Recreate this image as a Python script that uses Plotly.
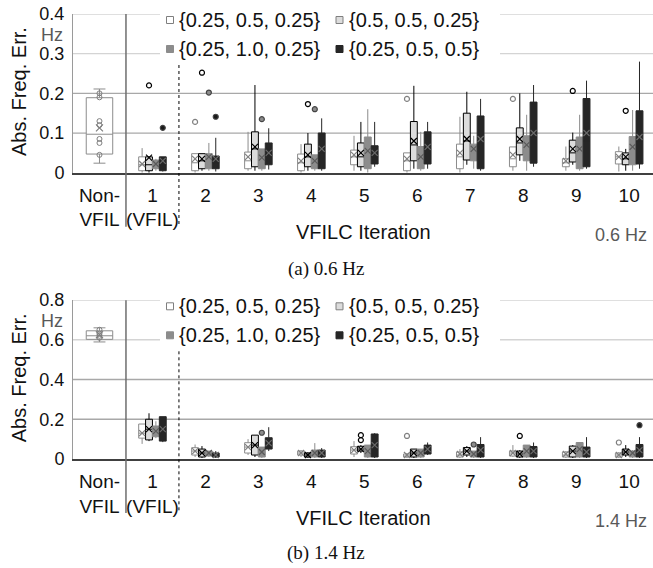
import plotly.graph_objects as go

# ---------------- data ----------------
ITERS = [1, 2, 3, 4, 5, 6, 7, 8, 9, 10]
SERIES = ["{0.25, 0.5, 0.25}", "{0.5, 0.5, 0.25}", "{0.25, 1.0, 0.25}", "{0.25, 0.5, 0.5}"]
XTICK_VALS = [0, 1, 2, 3, 4, 5, 6, 7, 8, 9, 10]
XTICK_TEXT = ["Non-<br>VFIL", "1<br>(VFIL)", "2", "3", "4", "5", "6", "7", "8", "9", "10"]
A_YTICKS = [0, 0.1, 0.2, 0.3, 0.4]
B_YTICKS = [0, 0.2, 0.4, 0.6, 0.8]

# (a) 0.6 Hz  -- Non-VFIL box: lower, q1, median, q3, upper, mean
A_NON = [0.024, 0.047, 0.097, 0.189, 0.211, 0.113]
A_NON_PTS = [0.20, 0.19, 0.13, 0.12, 0.085, 0.075, 0.045]
A_LO = [[0.0, 0.0, 0.005, 0.0, 0.005, 0.0, 0.0, 0.005, 0.005, 0.003],
        [0.0, 0.005, 0.005, 0.005, 0.005, 0.01, 0.02, 0.03, 0.02, 0.005],
        [0.005, 0.005, 0.005, 0.005, 0.0, 0.005, 0.01, 0.005, 0.005, 0.005],
        [0.003, 0.003, 0.008, 0.005, 0.015, 0.01, 0.005, 0.015, 0.01, 0.01]]
A_Q1 = [[0.005, 0.005, 0.01, 0.005, 0.02, 0.005, 0.01, 0.015, 0.015, 0.022],
        [0.005, 0.01, 0.015, 0.015, 0.015, 0.03, 0.032, 0.045, 0.027, 0.02],
        [0.01, 0.01, 0.01, 0.01, 0.01, 0.01, 0.03, 0.03, 0.01, 0.02],
        [0.005, 0.01, 0.02, 0.01, 0.022, 0.022, 0.01, 0.024, 0.015, 0.022]]
A_MED = [[0.02, 0.025, 0.03, 0.025, 0.04, 0.03, 0.04, 0.035, 0.025, 0.04],
         [0.02, 0.03, 0.06, 0.04, 0.04, 0.07, 0.08, 0.075, 0.05, 0.035],
         [0.02, 0.03, 0.03, 0.025, 0.05, 0.03, 0.05, 0.06, 0.05, 0.06],
         [0.02, 0.025, 0.045, 0.05, 0.04, 0.06, 0.08, 0.09, 0.08, 0.08]]
A_Q3 = [[0.04, 0.048, 0.052, 0.047, 0.057, 0.05, 0.072, 0.065, 0.035, 0.053],
        [0.04, 0.048, 0.103, 0.072, 0.075, 0.129, 0.15, 0.113, 0.082, 0.05],
        [0.032, 0.048, 0.06, 0.045, 0.09, 0.066, 0.072, 0.093, 0.09, 0.091],
        [0.04, 0.042, 0.075, 0.10, 0.068, 0.103, 0.143, 0.178, 0.187, 0.156]]
A_HI = [[0.062, 0.048, 0.103, 0.072, 0.093, 0.05, 0.141, 0.065, 0.066, 0.066],
        [0.04, 0.048, 0.221, 0.10, 0.128, 0.219, 0.204, 0.20, 0.101, 0.06],
        [0.035, 0.075, 0.06, 0.045, 0.16, 0.103, 0.093, 0.146, 0.146, 0.158],
        [0.04, 0.088, 0.112, 0.137, 0.128, 0.128, 0.186, 0.221, 0.232, 0.28]]
A_MEAN = [[0.022, 0.035, 0.04, 0.03, 0.045, 0.035, 0.05, 0.045, 0.03, 0.04],
          [0.038, 0.035, 0.065, 0.045, 0.05, 0.08, 0.085, 0.085, 0.06, 0.04],
          [0.022, 0.04, 0.038, 0.03, 0.055, 0.04, 0.06, 0.07, 0.06, 0.065],
          [0.03, 0.035, 0.05, 0.06, 0.05, 0.065, 0.085, 0.10, 0.10, 0.09]]
A_OUT_IT = [[2, 6, 8], [1, 2, 4, 9, 10], [2, 3, 4], [1, 2]]
A_OUT_VAL = [[0.128, 0.186, 0.186], [0.22, 0.252, 0.173, 0.206, 0.156],
             [0.202, 0.135, 0.16], [0.113, 0.141]]

# (b) 1.4 Hz
B_NON = [0.589, 0.602, 0.62, 0.645, 0.66, 0.625]
B_NON_PTS = [0.65, 0.63, 0.62, 0.61]
B_LO = [[0.076, 0.01, 0.02, 0.01, 0.01, 0.005, 0.005, 0.01, 0.005, 0.005],
        [0.09, 0.005, 0.01, 0.005, 0.03, 0.005, 0.01, 0.005, 0.005, 0.01],
        [0.105, 0.01, 0.005, 0.005, 0.005, 0.005, 0.005, 0.005, 0.005, 0.005],
        [0.085, 0.005, 0.04, 0.005, 0.005, 0.02, 0.005, 0.005, 0.005, 0.005]]
B_Q1 = [[0.105, 0.02, 0.03, 0.02, 0.025, 0.01, 0.01, 0.015, 0.01, 0.01],
        [0.096, 0.01, 0.02, 0.01, 0.04, 0.01, 0.02, 0.01, 0.01, 0.02],
        [0.112, 0.015, 0.01, 0.01, 0.01, 0.01, 0.01, 0.01, 0.01, 0.01],
        [0.09, 0.01, 0.05, 0.01, 0.01, 0.025, 0.01, 0.01, 0.01, 0.01]]
B_MED = [[0.13, 0.04, 0.06, 0.03, 0.045, 0.015, 0.02, 0.03, 0.02, 0.02],
         [0.15, 0.03, 0.07, 0.02, 0.05, 0.03, 0.04, 0.025, 0.04, 0.035],
         [0.14, 0.025, 0.03, 0.03, 0.04, 0.03, 0.02, 0.04, 0.05, 0.03],
         [0.15, 0.02, 0.08, 0.03, 0.07, 0.05, 0.04, 0.04, 0.03, 0.04]]
B_Q3 = [[0.176, 0.057, 0.082, 0.04, 0.062, 0.025, 0.035, 0.04, 0.035, 0.03],
        [0.20, 0.05, 0.12, 0.03, 0.064, 0.05, 0.058, 0.04, 0.065, 0.05],
        [0.166, 0.04, 0.06, 0.045, 0.07, 0.05, 0.04, 0.07, 0.083, 0.04],
        [0.213, 0.03, 0.107, 0.045, 0.126, 0.07, 0.073, 0.063, 0.06, 0.073]]
B_HI = [[0.176, 0.073, 0.10, 0.045, 0.09, 0.03, 0.05, 0.07, 0.04, 0.035],
        [0.23, 0.065, 0.12, 0.035, 0.07, 0.05, 0.065, 0.045, 0.07, 0.07],
        [0.19, 0.04, 0.06, 0.08, 0.07, 0.05, 0.04, 0.07, 0.085, 0.045],
        [0.213, 0.04, 0.16, 0.055, 0.13, 0.083, 0.11, 0.083, 0.11, 0.11]]
B_MEAN = [[0.13, 0.04, 0.06, 0.03, 0.045, 0.02, 0.025, 0.03, 0.025, 0.02],
          [0.15, 0.03, 0.07, 0.02, 0.05, 0.03, 0.04, 0.025, 0.04, 0.035],
          [0.14, 0.03, 0.035, 0.03, 0.04, 0.03, 0.025, 0.04, 0.05, 0.03],
          [0.15, 0.02, 0.08, 0.03, 0.07, 0.05, 0.045, 0.04, 0.035, 0.045]]
B_OUT_IT = [[6, 10], [5, 5, 8], [3, 7], [10]]
B_OUT_VAL = [[0.116, 0.083], [0.12, 0.095, 0.116], [0.132, 0.073], [0.17]]

# ---------------- styling ----------------
W, H = 653, 568
ML, MR, MT, MB = 73, 0, 14, 109
FONT = "Liberation Sans, Arial, Helvetica, sans-serif"
SERIF = "Liberation Serif, Times New Roman, serif"
FILL = ["#ffffff", "#dcdcdc", "#8c8c8c", "#262626"]
EDGE = ["#8c8c8c", "#000000", "#8c8c8c", "#262626"]
MEANC = ["#7f7f7f", "#000000", "#5a5a5a", "#6a6a6a"]
OUTSYM = ["circle-open", "circle-open", "circle", "circle"]
OUTC = ["#7f7f7f", "#000000", "#8c8c8c", "#1a1a1a"]
OFFS = [-0.195, -0.065, 0.065, 0.195]
BOXW = 0.13


def px(x):
    return (x - ML) / (W - ML - MR)


def py(y):
    return (H - MB - y) / (H - MT - MB)


fig = go.Figure()

panels = [
    dict(xa="x", ya="y", non=A_NON, pts=A_NON_PTS, lo=A_LO, q1=A_Q1, med=A_MED, q3=A_Q3,
         hi=A_HI, mean=A_MEAN, oit=A_OUT_IT, oval=A_OUT_VAL),
    dict(xa="x2", ya="y2", non=B_NON, pts=B_NON_PTS, lo=B_LO, q1=B_Q1, med=B_MED, q3=B_Q3,
         hi=B_HI, mean=B_MEAN, oit=B_OUT_IT, oval=B_OUT_VAL),
]

for p in panels:
    n = p["non"]
    fig.add_trace(go.Box(
        x=[0], lowerfence=[n[0]], q1=[n[1]], median=[n[2]], q3=[n[3]], upperfence=[n[4]],
        width=0.5, whiskerwidth=0.45, fillcolor="#ffffff",
        line=dict(color="#8c8c8c", width=1), boxpoints=False,
        xaxis=p["xa"], yaxis=p["ya"], showlegend=False, hoverinfo="skip"))
    fig.add_trace(go.Scatter(
        x=[0] * len(p["pts"]), y=p["pts"], mode="markers",
        marker=dict(symbol="circle-open", size=5, color="#7f7f7f", line=dict(width=1)),
        xaxis=p["xa"], yaxis=p["ya"], showlegend=False, hoverinfo="skip"))
    fig.add_trace(go.Scatter(
        x=[0], y=[n[5]], mode="markers",
        marker=dict(symbol="x-thin-open", size=7, color="#7f7f7f", line=dict(width=1.2)),
        xaxis=p["xa"], yaxis=p["ya"], showlegend=False, hoverinfo="skip"))
    for s in range(4):
        xs = [i + OFFS[s] for i in ITERS]
        fig.add_trace(go.Box(
            x=xs, lowerfence=p["lo"][s], q1=p["q1"][s], median=p["med"][s], q3=p["q3"][s],
            upperfence=p["hi"][s], width=BOXW, whiskerwidth=0, fillcolor=FILL[s],
            line=dict(color=EDGE[s], width=1), boxpoints=False, name=SERIES[s],
            xaxis=p["xa"], yaxis=p["ya"], showlegend=False, hoverinfo="skip"))
        fig.add_trace(go.Scatter(
            x=xs, y=p["mean"][s], mode="markers",
            marker=dict(symbol="x-thin-open", size=6, color=MEANC[s], line=dict(width=1.2)),
            xaxis=p["xa"], yaxis=p["ya"], showlegend=False, hoverinfo="skip"))
        fig.add_trace(go.Scatter(
            x=[i + OFFS[s] for i in p["oit"][s]], y=p["oval"][s], mode="markers",
            marker=dict(symbol=OUTSYM[s], size=5, color=OUTC[s], line=dict(width=1.2)),
            xaxis=p["xa"], yaxis=p["ya"], showlegend=False, hoverinfo="skip"))

shapes = []
annotations = []


def text(t, x, y, size, color="#111111", family=FONT, xanchor="center", angle=0):
    annotations.append(dict(text=t, xref="paper", yref="paper", x=px(x), y=py(y),
                            xanchor=xanchor, yanchor="middle", textangle=angle,
                            showarrow=False, font=dict(size=size, color=color, family=family)))


for ya, ticks in [("y", A_YTICKS), ("y2", B_YTICKS)]:
    for k, v in enumerate(ticks[1:]):
        col = "#a8a8a8" if k < 2 else "#d4d4d4"
        shapes.append(dict(type="line", xref="paper", yref=ya, x0=0, x1=1, y0=v, y1=v,
                           line=dict(color=col, width=1.3), layer="below"))

for top, axis_px, xa, hzlabel in [(0, 172.7, "x", "0.6 Hz"), (286.3, 459, "x2", "1.4 Hz")]:
    shapes.append(dict(type="rect", xref="paper", yref="paper", x0=px(160), x1=px(500),
                       y0=py(top + 64), y1=py(top - 5), fillcolor="#ffffff",
                       line=dict(width=0), layer="below"))
    shapes.append(dict(type="line", xref=xa, yref="paper", x0=0.5, x1=0.5,
                       y0=py(top + 14), y1=py(axis_px + 54),
                       line=dict(color="#6e6e6e", width=1.5)))
    shapes.append(dict(type="line", xref=xa, yref="paper", x0=1.5, x1=1.5,
                       y0=py(top + 65), y1=py(axis_px + 54),
                       line=dict(color="#000000", width=1, dash="3px,3px")))
    for s in range(4):
        cx = 170 if s in (0, 2) else 339.5
        cy = top + (20 if s in (0, 1) else 49)
        shapes.append(dict(type="rect", xref="paper", yref="paper",
                           x0=px(cx - 3.5), x1=px(cx + 3.5), y0=py(cy + 3.5), y1=py(cy - 3.5),
                           fillcolor=FILL[s],
                           line=dict(color="#7f7f7f" if s < 2 else FILL[s], width=1)))
        text(SERIES[s], cx + 7, cy, 20, xanchor="left")
    text("Abs. Freq. Err.", 19, top + 92, 20, angle=-90)
    text("Hz", 52, top + 35, 18, color="#595959")
    text("VFILC Iteration", 363, axis_px + 59, 20)
    text(hzlabel, 649, axis_px + 62, 18, color="#595959", xanchor="right")

text("(a) 0.6 Hz", 326, 269, 19, family=SERIF)
text("(b) 1.4 Hz", 326, 553, 19, family=SERIF)

xaxis_common = dict(range=[-0.5, 10.45], tickmode="array", tickvals=XTICK_VALS, ticktext=XTICK_TEXT,
                    showgrid=False, zeroline=False, showline=True, linecolor="#404040", linewidth=2,
                    ticks="", tickfont=dict(size=19, color="#111111", family=FONT),
                    ticklabelstandoff=4)
yaxis_common = dict(showgrid=False, zeroline=False, showline=True, linecolor="#9a9a9a", linewidth=1,
                    ticks="", tickfont=dict(size=18, color="#111111", family=FONT),
                    tickmode="array", ticklabelstandoff=4)

fig.update_layout(
    width=W, height=H,
    margin=dict(l=ML, r=MR, t=MT, b=MB, autoexpand=False),
    paper_bgcolor="#ffffff", plot_bgcolor="#ffffff",
    boxmode="overlay",
    xaxis=dict(xaxis_common, domain=[0, 1], anchor="y"),
    yaxis=dict(yaxis_common, domain=[py(172.7), 1], range=[0, 0.4], tickvals=A_YTICKS,
               ticktext=["0", "0.1", "0.2", "0.3", "0.4"], anchor="x"),
    xaxis2=dict(xaxis_common, domain=[0, 1], anchor="y2"),
    yaxis2=dict(yaxis_common, domain=[0, py(300)], range=[0, 0.8], tickvals=B_YTICKS,
                ticktext=["0", "0.2", "0.4", "0.6", "0.8"], anchor="x2"),
    shapes=shapes, annotations=annotations,
    showlegend=False,
)

fig.write_html("out.html", config={"displayModeBar": False},
               post_script="document.body.style.margin='0';document.body.style.overflow='hidden';")
